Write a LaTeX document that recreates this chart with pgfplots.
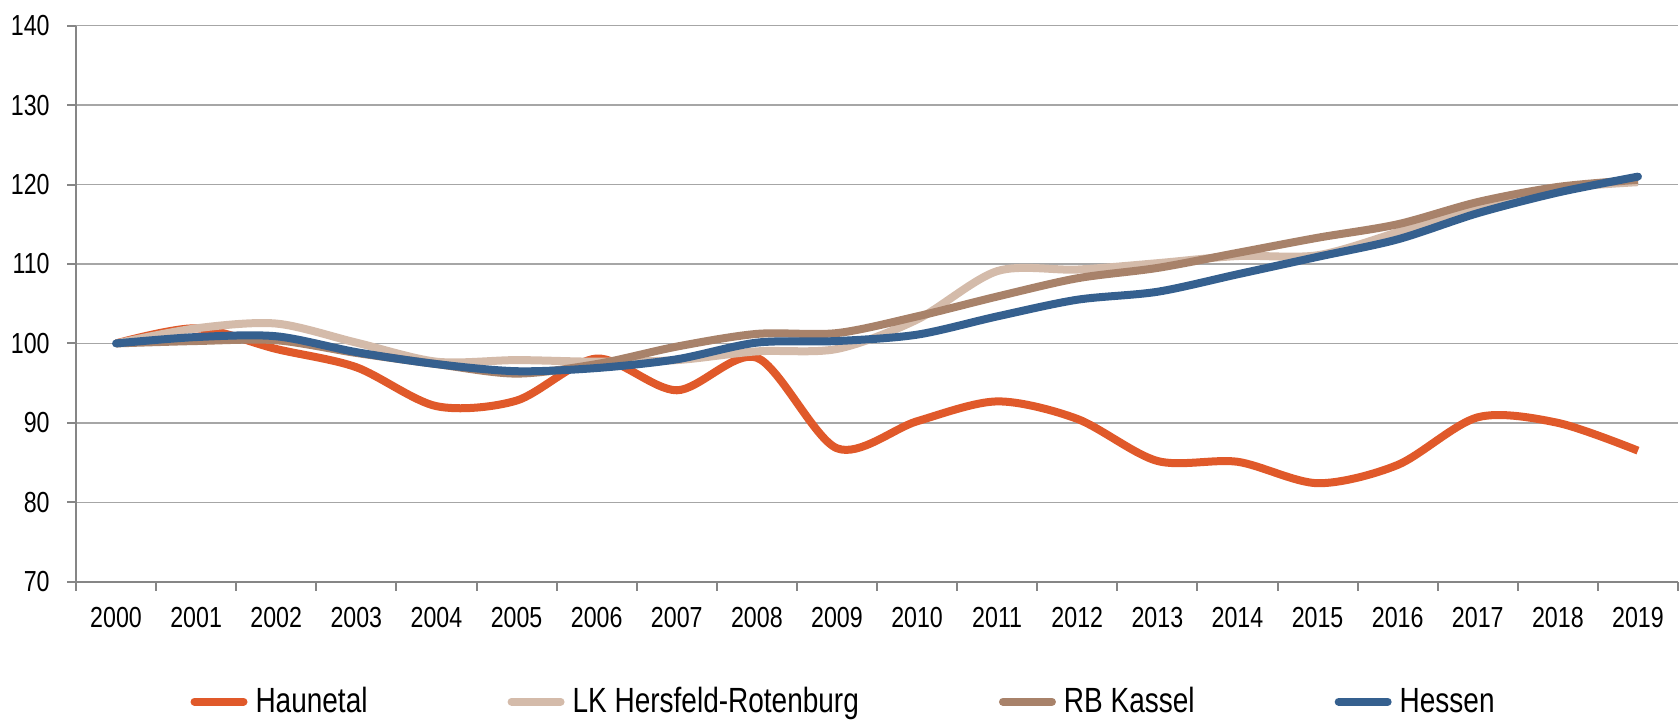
\documentclass[border=0pt]{standalone}
\usepackage{fontspec}
\setmainfont{Liberation Sans}[FakeStretch=0.8]
\usepackage{pgfplots}
\pgfplotsset{compat=1.18}
\definecolor{cHaun}{HTML}{E0592A}
\definecolor{cLK}{HTML}{D4BBAA}
\definecolor{cRB}{HTML}{A8826A}
\definecolor{cHes}{HTML}{35608F}
\definecolor{gridgray}{HTML}{A6A6A6}
\definecolor{axisgray}{HTML}{868686}
\pgfplotstableread{
i Haun LK RB Hes
0 100 100 100 100
1 101.9 101.9 100.3 100.8
2 99.3 102.5 100.4 100.9
3 97.0 100.1 98.8 98.9
4 92.1 97.7 97.4 97.4
5 92.8 97.9 96.2 96.5
6 98.1 97.7 97.4 96.9
7 94.1 97.9 99.6 98.0
8 98.2 99.0 101.2 100.1
9 86.8 99.3 101.3 100.3
10 90.2 103.0 103.4 101.1
11 92.7 109.1 105.9 103.4
12 90.5 109.3 108.2 105.5
13 85.2 110.1 109.5 106.5
14 85.1 111.0 111.4 108.7
15 82.4 111.1 113.3 110.9
16 84.7 114.0 115.0 113.1
17 90.7 117.3 117.8 116.4
18 90.0 119.5 119.7 119.0
19 86.5 120.3 120.6 121.0
}\datatable
\begin{document}
\begin{tikzpicture}
\useasboundingbox (0,0) rectangle (839.5pt,362pt);
\begin{axis}[
  at={(38pt,71.15pt)}, anchor=south west,
  width=801pt, height=278pt, scale only axis,
  xmin=-0.5, xmax=19.5, ymin=70, ymax=140,
  ytick={70,80,...,140},
  xtick={-0.5,0.5,...,19.5},
  xticklabels={2000,2001,2002,2003,2004,2005,2006,2007,2008,2009,2010,2011,2012,2013,2014,2015,2016,2017,2018,2019},
  x tick label as interval,
  axis x line*=bottom, axis y line*=left,
  ymajorgrids, grid style={color=gridgray, line width=0.75pt},
  axis line style={color=axisgray, line width=1pt},
  tick style={color=axisgray, line width=1pt},
  tick align=outside, major tick length=4.5pt,
  ticklabel style={font=\fontsize{14.5pt}{16pt}\selectfont, inner sep=0pt},
  yticklabel style={xshift=-8.5pt},
  xticklabel style={yshift=-8pt},
  /pgf/number format/assume math mode=true,
  clip=false,
  legend columns=4,
  legend style={at={(0.4785,-0.2158)}, anchor=center, draw=none, fill=none,
    font=\fontsize{17.5pt}{20pt}\selectfont, inner sep=0pt,
    nodes={inner sep=0pt},
    /tikz/every odd column/.append style={column sep=4pt},
    /tikz/every even column/.append style={column sep=70pt}},
  legend image code/.code={\draw[line width=4pt, line cap=round, #1] (2pt,0pt) -- (26.5pt,0pt);},
  every axis plot/.append style={line width=4pt, smooth, tension=0.5, no markers},
]
\addplot[color=cHaun] table[x=i, y=Haun] {\datatable};
\addlegendentry{Haunetal}
\addplot[color=cLK] table[x=i, y=LK] {\datatable};
\addlegendentry{LK Hersfeld-Rotenburg}
\addplot[color=cRB] table[x=i, y=RB] {\datatable};
\addlegendentry{RB Kassel}
\addplot[color=cHes, line cap=round] table[x=i, y=Hes] {\datatable};
\addlegendentry{Hessen}
\end{axis}
\end{tikzpicture}
\end{document}
